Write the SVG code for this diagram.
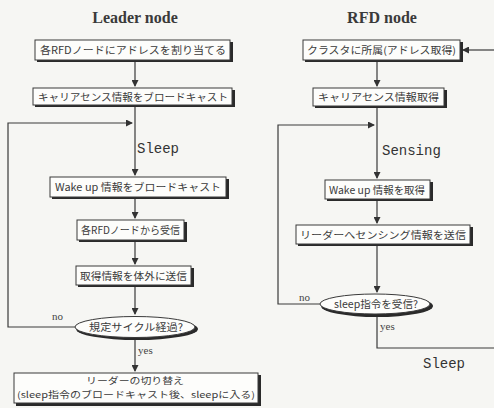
<svg xmlns="http://www.w3.org/2000/svg" width="494" height="408" viewBox="0 0 494 408">
<style>
.bg{fill:#f6f6f3}
.box{fill:#fdfdfb;stroke:#3a3a3a;stroke-width:1}
.sh{fill:#2a2a2a}
.jp{font-family:"Noto Sans CJK JP","Noto Sans",sans-serif;font-size:10px;fill:#3a3a3a}
.jp2{font-family:"Noto Sans CJK JP","Noto Sans",sans-serif;font-size:9px;fill:#3a3a3a}
.ttl{font-family:"Liberation Serif","DejaVu Serif",serif;font-size:16px;font-weight:bold;fill:#3a3a3a;text-anchor:middle}
.lbl{font-family:"Liberation Mono","DejaVu Sans Mono",monospace;font-size:14px;fill:#333}
.sm{font-family:"Liberation Serif",serif;font-size:11px;fill:#444}
.ln{fill:none;stroke:#3a3a3a;stroke-width:1.2}
</style>
<defs>
<marker id="ah" markerWidth="7" markerHeight="7" refX="6" refY="3.5" orient="auto" markerUnits="userSpaceOnUse">
<path d="M0,0 L7,3.5 L0,7 Z" fill="#333"/>
</marker>
</defs>
<rect class="bg" x="0" y="0" width="494" height="408"/>

<text class="ttl" x="135" y="23">Leader node</text>
<text class="ttl" x="382" y="23">RFD node</text>

<g id="connectors">
<path class="ln" d="M135,61 V86" marker-end="url(#ah)"/>
<path class="ln" d="M135,107 V175" marker-end="url(#ah)"/>
<path class="ln" d="M75,327 H8 V123 H132" marker-end="url(#ah)"/>
<path class="ln" d="M135,199 V218" marker-end="url(#ah)"/>
<path class="ln" d="M135,242 V264" marker-end="url(#ah)"/>
<path class="ln" d="M135,287 V314" marker-end="url(#ah)"/>
<path class="ln" d="M135,339 V371" marker-end="url(#ah)"/>
<path class="ln" d="M377,62 V86" marker-end="url(#ah)"/>
<path class="ln" d="M377,108 V178" marker-end="url(#ah)"/>
<path class="ln" d="M320,304 H278 V125 H374" marker-end="url(#ah)"/>
<path class="ln" d="M377,201 V223" marker-end="url(#ah)"/>
<path class="ln" d="M377,246 V292" marker-end="url(#ah)"/>
<path class="ln" d="M377,315 V348 H494"/>
<path class="ln" d="M494,50 H463" marker-end="url(#ah)"/>
<text class="lbl" x="137" y="153">Sleep</text>
<text class="lbl" x="382" y="155">Sensing</text>
<text class="lbl" x="423" y="368">Sleep</text>
<text class="sm" x="52" y="320">no</text>
<text class="sm" x="138" y="354">yes</text>
<text class="sm" x="299" y="301">no</text>
<text class="sm" x="380" y="330">yes</text>
</g>

<g id="L1">
<rect class="sh" x="37" y="42" width="196" height="20"/>
<rect class="box" x="35" y="40" width="195" height="20"/>
<text class="jp" x="40" y="54" textLength="186" lengthAdjust="spacingAndGlyphs">各RFDノードにアドレスを割り当てる</text>
</g>
<g id="L2">
<rect class="sh" x="35" y="90" width="200" height="17"/>
<rect class="box" x="33" y="88" width="199" height="17"/>
<text class="jp" x="38" y="100.5" textLength="190" lengthAdjust="spacingAndGlyphs">キャリアセンス情報をブロードキャスト</text>
</g>
<g id="L3">
<rect class="sh" x="52" y="179" width="177" height="20"/>
<rect class="box" x="50" y="177" width="176" height="20"/>
<text class="jp" x="55" y="191" textLength="166" lengthAdjust="spacingAndGlyphs">Wake up 情報をブロードキャスト</text>
</g>
<g id="L4">
<rect class="sh" x="79" y="222" width="108" height="20"/>
<rect class="box" x="77" y="220" width="107" height="20"/>
<text class="jp" x="81" y="234" textLength="99" lengthAdjust="spacingAndGlyphs">各RFDノードから受信</text>
</g>
<g id="L5">
<rect class="sh" x="78" y="268" width="116" height="19"/>
<rect class="box" x="76" y="266" width="115" height="19"/>
<text class="jp" x="80" y="279.5" textLength="107" lengthAdjust="spacingAndGlyphs">取得情報を体外に送信</text>
</g>
<g id="L6">
<ellipse class="sh" cx="137" cy="329" rx="61" ry="11"/>
<ellipse class="box" cx="135" cy="327" rx="60" ry="10.5"/>
<text class="jp" x="89" y="331" textLength="94" lengthAdjust="spacingAndGlyphs">規定サイクル経過?</text>
</g>
<g id="L7">
<rect class="sh" x="16" y="375" width="245" height="31"/>
<rect class="box" x="14" y="373" width="244" height="30"/>
<text class="jp2" x="135" y="384" text-anchor="middle" textLength="98" lengthAdjust="spacingAndGlyphs">リーダーの切り替え</text>
<text class="jp2" x="17" y="398" textLength="238" lengthAdjust="spacingAndGlyphs">(sleep指令のブロードキャスト後、sleepに入る)</text>
</g>

<g id="R1">
<rect class="sh" x="305" y="42" width="158" height="20"/>
<rect class="box" x="303" y="40" width="157" height="20"/>
<text class="jp" x="307" y="54" textLength="149" lengthAdjust="spacingAndGlyphs">クラスタに所属(アドレス取得)</text>
</g>
<g id="R2">
<rect class="sh" x="315" y="90" width="132" height="18"/>
<rect class="box" x="313" y="88" width="131" height="18"/>
<text class="jp" x="318" y="101" textLength="121" lengthAdjust="spacingAndGlyphs">キャリアセンス情報取得</text>
</g>
<g id="R3">
<rect class="sh" x="327" y="182" width="106" height="19"/>
<rect class="box" x="325" y="180" width="105" height="19"/>
<text class="jp" x="329" y="193.5" textLength="96" lengthAdjust="spacingAndGlyphs">Wake up 情報を取得</text>
</g>
<g id="R4">
<rect class="sh" x="298" y="227" width="175" height="19"/>
<rect class="box" x="296" y="225" width="174" height="19"/>
<text class="jp" x="300" y="238.5" textLength="166" lengthAdjust="spacingAndGlyphs">リーダーへセンシング情報を送信</text>
</g>
<g id="R5">
<ellipse class="sh" cx="377" cy="306" rx="56" ry="11"/>
<ellipse class="box" cx="375" cy="304" rx="55" ry="10"/>
<text class="jp" x="334" y="308" textLength="84" lengthAdjust="spacingAndGlyphs">sleep指令を受信?</text>
</g>
</svg>
